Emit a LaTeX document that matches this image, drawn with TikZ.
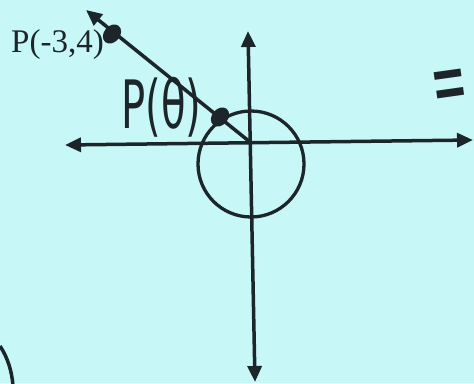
\documentclass[tikz,border=0pt]{standalone}
\usepackage{fontspec}
\setmainfont{Liberation Serif}
\newfontfamily\handfont{DejaVu Sans}
\usetikzlibrary{arrows.meta,shapes.geometric}
\definecolor{bg}{RGB}{200,247,248}
\definecolor{ink}{RGB}{28,38,42}
\begin{document}
\begin{tikzpicture}[x=1pt,y=-1pt,
  axis/.style={draw=ink,line width=3.5pt},
  blob/.style={ellipse,fill=ink,minimum width=16pt,minimum height=21pt,inner sep=0pt,rotate=-40},
  label/.style={inner sep=0pt,text=ink}]
\fill[bg] (0,0) rectangle (474,383);
\useasboundingbox (0,0) rectangle (474,383);
\coordinate (O) at (250,142);
\coordinate (xl) at (65,145);
\coordinate (xr) at (473,140);
\coordinate (yt) at (248,31);
\coordinate (yb) at (255,382);
\coordinate (rt) at (86,10);
\coordinate (a1) at (0,346);
\coordinate (a2) at (13,386);
\draw[axis,{Triangle[length=16pt,width=14pt]}-{Triangle[length=16pt,width=14pt]}] (xl) -- (xr);
\draw[axis,{Triangle[length=16pt,width=14pt]}-{Triangle[length=16pt,width=14pt]}] (yt) -- (yb);
\node[draw=ink,line width=3.3pt,circle,minimum size=106pt,inner sep=0pt] (circ) at (251,164) {};
\draw[axis,-{Triangle[length=16pt,width=14pt]}] (O) -- (rt);
\node[blob] (P) at (112,34) {};
\node[blob] (Pt) at (220,117) {};
\node[label,anchor=base west,font=\fontsize{33}{33}\selectfont] (lab) at (11,52) {P(-3,4)};
\node[label,anchor=north west] (lt) at (121,77) {\resizebox*{80pt}{60pt}{\handfont P(θ)}};
\node[label,rotate=8] (eq) at (450,92) {\scalebox{1.2}[2.6]{\handfont\fontsize{36}{36}\selectfont =}};
\draw[axis] (a1) .. controls (8,358) and (12,372) .. (a2);
\end{tikzpicture}
\end{document}
